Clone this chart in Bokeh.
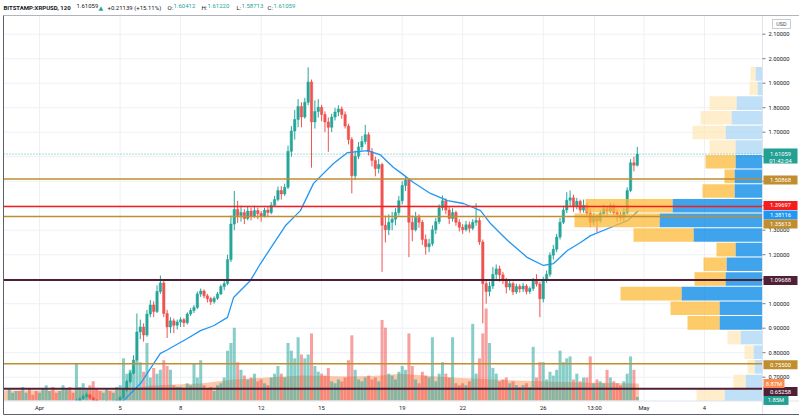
from bokeh.plotting import figure
from bokeh.models import Range1d, Label, ColumnDataSource
from bokeh.core.properties import value
from bokeh.embed import file_html
from bokeh.resources import INLINE

# ---------------- data (time in days from 1 Apr 00:00, 4h bars) ----------------
first_open = 0.562
bar_start = -1.5          # 30 Mar 12:00
bar_step = 4 / 24

closes = [
    0.566, 0.571, 0.574,                                   # Mar 30
    0.570, 0.578, 0.583, 0.575, 0.569, 0.566,              # Mar 31
    0.569, 0.573, 0.582, 0.586, 0.579, 0.576,              # Apr 1
    0.581, 0.590, 0.597, 0.594, 0.590, 0.603,              # Apr 2
    0.612, 0.622, 0.628, 0.616, 0.606, 0.598,              # Apr 3
    0.593, 0.597, 0.601, 0.596, 0.600, 0.604,              # Apr 4
    0.618, 0.648, 0.682, 0.716, 0.770, 0.885,              # Apr 5
    0.905, 0.872, 0.958, 0.995, 0.968, 1.050,              # Apr 6
    1.085, 0.960, 0.905, 0.930, 0.912, 0.925,              # Apr 7
    0.935, 0.922, 0.958, 0.972, 0.985, 1.040,              # Apr 8
    1.052, 1.032, 1.020, 1.008, 1.022, 1.040,              # Apr 9
    1.070, 1.082, 1.180, 1.325, 1.385, 1.360,              # Apr 10
    1.372, 1.348, 1.378, 1.358, 1.380, 1.368,              # Apr 11
    1.358, 1.382, 1.372, 1.402, 1.425, 1.462,              # Apr 12
    1.448, 1.475, 1.622, 1.705, 1.752, 1.805,              # Apr 13
    1.762, 1.822, 1.905, 1.742, 1.785, 1.802,              # Apr 14
    1.772, 1.742, 1.720, 1.762, 1.782, 1.795,              # Apr 15
    1.772, 1.725, 1.670, 1.522, 1.602, 1.640,              # Apr 16
    1.662, 1.690, 1.620, 1.585, 1.552, 1.568,              # Apr 17
    1.320, 1.302, 1.332, 1.345, 1.372, 1.420,              # Apr 18
    1.482, 1.505, 1.332, 1.302, 1.352, 1.332,              # Apr 19
    1.262, 1.232, 1.245, 1.302, 1.335, 1.392,              # Apr 20
    1.420, 1.382, 1.348, 1.372, 1.332, 1.312,              # Apr 21
    1.302, 1.322, 1.308, 1.332, 1.340, 1.252,              # Apr 22
    1.082, 1.050, 1.072, 1.120, 1.142, 1.118,              # Apr 23
    1.098, 1.068, 1.082, 1.048, 1.070, 1.060,              # Apr 24
    1.072, 1.050, 1.062, 1.092, 1.080, 1.020,              # Apr 25
    1.098, 1.120, 1.198, 1.222, 1.272, 1.332,              # Apr 26
    1.382, 1.422, 1.432, 1.398, 1.418, 1.382,              # Apr 27
    1.402, 1.370, 1.332, 1.352, 1.338, 1.368,              # Apr 28
    1.388, 1.378, 1.402, 1.372, 1.362, 1.352,              # Apr 29
    1.372, 1.462, 1.575, 1.565, 1.61059,                   # Apr 30
]
highs = [
    0.572, 0.576, 0.580,
    0.579, 0.585, 0.590, 0.588, 0.578, 0.574,
    0.575, 0.580, 0.590, 0.594, 0.589, 0.583,
    0.586, 0.596, 0.604, 0.601, 0.598, 0.612,
    0.618, 0.630, 0.636, 0.631, 0.620, 0.609,
    0.600, 0.602, 0.607, 0.604, 0.606, 0.610,
    0.622, 0.655, 0.690, 0.725, 0.790, 0.960,
    0.935, 0.920, 0.975, 1.015, 1.010, 1.075,
    1.115, 1.095, 0.975, 0.945, 0.940, 0.935,
    0.945, 0.942, 0.965, 0.982, 0.995, 1.050,
    1.062, 1.058, 1.040, 1.028, 1.030, 1.048,
    1.078, 1.095, 1.200, 1.360, 1.460, 1.420,
    1.400, 1.385, 1.395, 1.392, 1.400, 1.392,
    1.378, 1.392, 1.395, 1.415, 1.440, 1.478,
    1.480, 1.490, 1.645, 1.725, 1.790, 1.835,
    1.822, 1.840, 1.965, 1.915, 1.830, 1.835,
    1.812, 1.785, 1.760, 1.775, 1.800, 1.810,
    1.805, 1.785, 1.735, 1.680, 1.625, 1.660,
    1.685, 1.730, 1.700, 1.635, 1.600, 1.590,
    1.575, 1.360, 1.365, 1.375, 1.390, 1.440,
    1.500, 1.522, 1.510, 1.360, 1.375, 1.365,
    1.342, 1.282, 1.265, 1.320, 1.350, 1.405,
    1.442, 1.430, 1.395, 1.390, 1.380, 1.345,
    1.325, 1.338, 1.335, 1.345, 1.410, 1.352,
    1.262, 1.100, 1.090, 1.150, 1.160, 1.155,
    1.130, 1.105, 1.095, 1.090, 1.082, 1.080,
    1.085, 1.080, 1.070, 1.105, 1.120, 1.090,
    1.110, 1.135, 1.210, 1.240, 1.285, 1.350,
    1.400, 1.455, 1.462, 1.445, 1.432, 1.425,
    1.425, 1.412, 1.390, 1.370, 1.365, 1.380,
    1.405, 1.398, 1.412, 1.408, 1.385, 1.375,
    1.390, 1.475, 1.590, 1.600, 1.640,
]
lows = [
    0.555, 0.560, 0.565,
    0.563, 0.566, 0.574, 0.567, 0.560, 0.558,
    0.560, 0.565, 0.570, 0.577, 0.572, 0.568,
    0.573, 0.579, 0.587, 0.586, 0.582, 0.588,
    0.600, 0.609, 0.615, 0.610, 0.598, 0.590,
    0.585, 0.588, 0.592, 0.590, 0.592, 0.596,
    0.600, 0.612, 0.640, 0.675, 0.712, 0.765,
    0.855, 0.845, 0.865, 0.945, 0.945, 0.962,
    1.040, 0.945, 0.860, 0.880, 0.880, 0.895,
    0.905, 0.905, 0.915, 0.950, 0.962, 0.978,
    1.028, 1.022, 1.005, 0.995, 1.000, 1.015,
    1.035, 1.055, 1.075, 1.170, 1.300, 1.330,
    1.335, 1.325, 1.340, 1.340, 1.350, 1.345,
    1.335, 1.352, 1.355, 1.365, 1.395, 1.418,
    1.425, 1.440, 1.468, 1.600, 1.670, 1.720,
    1.720, 1.755, 1.810, 1.555, 1.715, 1.760,
    1.745, 1.700, 1.620, 1.700, 1.748, 1.765,
    1.755, 1.715, 1.650, 1.450, 1.505, 1.590,
    1.625, 1.650, 1.605, 1.560, 1.520, 1.532,
    1.130, 1.250, 1.280, 1.300, 1.320, 1.360,
    1.405, 1.460, 1.190, 1.255, 1.295, 1.310,
    1.240, 1.200, 1.210, 1.235, 1.285, 1.325,
    1.380, 1.365, 1.325, 1.335, 1.318, 1.295,
    1.285, 1.295, 1.290, 1.300, 1.318, 1.240,
    0.920, 1.000, 1.030, 1.060, 1.100, 1.090,
    1.080, 1.042, 1.055, 1.035, 1.040, 1.045,
    1.048, 1.038, 1.040, 1.052, 1.070, 0.945,
    1.005, 1.085, 1.110, 1.180, 1.210, 1.262,
    1.325, 1.370, 1.395, 1.375, 1.385, 1.370,
    1.372, 1.355, 1.312, 1.320, 1.292, 1.330,
    1.360, 1.360, 1.370, 1.360, 1.335, 1.338,
    1.335, 1.365, 1.455, 1.540, 1.560,
]
volumes_m = [
    6, 4, 5,
    5, 7, 4, 6, 3, 5,
    4, 6, 8, 5, 7, 4,
    5, 8, 6, 7, 4, 19,
    7, 9, 6, 8, 10, 6,
    5, 4, 6, 5, 4, 7,
    8, 22, 14, 16, 18, 21,
    20, 15, 30, 12, 17, 14,
    16, 21, 18, 16, 8, 7,
    7, 6, 9, 8, 19, 12,
    21, 8, 6, 7, 5, 8,
    9, 12, 26, 30, 38, 20,
    16, 13, 11, 12, 14, 10,
    11, 9, 8, 12, 14, 18,
    14, 12, 30, 26, 22, 33,
    24, 22, 24, 35, 18, 15,
    14, 13, 17, 10, 9, 11,
    10, 12, 21, 34, 16, 11,
    10, 12, 13, 11, 12, 10,
    42, 38, 14, 13, 11, 15,
    18, 16, 35, 18, 11, 9,
    15, 13, 12, 33, 10, 14,
    20, 14, 12, 33, 9, 8,
    9, 8, 10, 40, 14, 22,
    35, 48, 30, 17, 14, 10,
    11, 12, 9, 10, 8, 7,
    8, 9, 7, 28, 12, 20,
    20, 11, 15, 13, 16, 26,
    20, 22, 23, 11, 14, 10,
    12, 12, 23, 9, 11, 10,
    9, 16, 12, 10, 9, 8,
    10, 14, 23, 16, 1.85,
]

# moving average of price
ma_t = [4.0, 5.01, 6.0, 6.35, 7.34, 7.99, 8.64, 9.33, 9.63, 10.47, 10.97, 12.2, 12.95,
        13.6, 14.59, 15.29, 16.28, 16.92, 17.57, 17.92, 18.56, 19.40, 20.25, 21.04,
        21.89, 22.38, 23.23, 24.22, 25.01, 25.51, 26.20, 26.85, 27.35, 28.34, 29.18, 29.73]
ma_v = [0.590, 0.674, 0.797, 0.812, 0.858, 0.890, 0.910, 0.944, 1.025, 1.095, 1.164, 1.318,
        1.380, 1.491, 1.572, 1.617, 1.625, 1.607, 1.556, 1.535, 1.495, 1.450, 1.421, 1.409,
        1.380, 1.327, 1.258, 1.188, 1.156, 1.164, 1.217, 1.250, 1.278, 1.311, 1.339, 1.380]

# volume moving average (millions)
vol_ma_t = [-1.79, 4.0, 5.0, 5.5, 8.0, 9.6, 10.5, 13.0, 15.4, 17.0, 17.9, 20.4, 23.7, 27.0, 29.75]
vol_ma_m = [5.2, 5.3, 6.8, 7.8, 8.9, 11.0, 11.5, 13.0, 12.5, 13.0, 14.0, 12.0, 10.4, 9.4, 8.87]

# visible-range volume profile (rows from top), volumes in M
vp_price = [1.9382, 1.8784, 1.8186, 1.7588, 1.6990, 1.6392, 1.5794, 1.5196, 1.4598,
            1.4000, 1.3402, 1.2804, 1.2206, 1.1608, 1.1010, 1.0412, 0.9814, 0.9216,
            0.8618, 0.8020, 0.7422, 0.6824, 0.6226]
vp_total = [24, 26, 106, 124, 140, 106, 114, 76, 120, 354, 376, 258, 92, 118, 136,
            284, 184, 150, 70, 36, 30, 58, 132]
vp_up = [14, 10, 52, 62, 74, 54, 54, 56, 56, 180, 206, 138, 54, 72, 74, 162, 86, 86,
         44, 18, 16, 34, 76]
vp_in_value_area = [False] * 6 + [True] * 12 + [False] * 5

level_prices = [1.50868, 1.39697, 1.35613, 1.09688, 0.75500, 0.65258]
level_colors = ["#c08d2f", "#f41e1e", "#c08d2f", "#4f1f36", "#c08d2f", "#4f1f36"]
level_widths = [1.5, 1.5, 1.5, 2, 1.5, 2]
last_price = 1.61059

price_ticks = [0.7, 0.8, 0.9, 1.0, 1.1, 1.2, 1.3, 1.4, 1.5, 1.6, 1.7, 1.8, 1.9, 2.0, 2.1]
price_tick_labels = ["0.70000", "0.80000", "0.90000", "1.00000", "1.10000", "1.20000",
                     "1.30000", "1.40000", "1.50000", "1.60000", "1.70000", "1.80000",
                     "1.90000", "2.00000", "2.10000"]
time_ticks = [0, 4, 7, 11, 14, 18, 21, 25, 27 + 13 / 24, 30, 33]
time_labels = ["Apr", "5", "8", "12", "15", "19", "22", "26", "13:00", "May", "4"]

# price-scale tags: text, value, colour, shift px (down +)
tag_text = ["1.50868", "1.39697", "1.38116", "1.35613", "1.09688", "0.75500", "0.65258"]
tag_value = [1.50868, 1.39697, 1.38116, 1.35613, 1.09688, 0.75500, 0.65258]
tag_color = ["#c08d2f", "#f41e1e", "#2196f3", "#c08d2f", "#4f1f36", "#c08d2f", "#4f1f36"]
tag_shift = [1, -1, 4.8, 7.5, 0.5, 1, 2.7]
vol_tag_text = ["8.87M", "1.85M"]
vol_tag_value = [vol_ma_m[-1], volumes_m[-1]]
vol_tag_color = ["#fb8c4e", "#22a092"]
vol_tag_width = [21, 25]
vol_tag_shift = [0, 3.5]

# ---------------- pixel geometry (reference picture) ----------------
W, H = 799, 416
PX_DAY, X_APR1 = 20.15, 39.0          # px per day, page x of 1 Apr
PX_PRICE, Y_21 = 245.0, 33.7          # px per 1.0 price, page y of 2.10
VOL_PER_PX = 8.87 / 17
PANE_L, PANE_T, AXIS_X, AXIS_Y, BOT_Y = 3, 15, 762, 400.5, 414


def tx(px):
    return (px - X_APR1) / PX_DAY


def py(y):
    return 2.1 - (y - Y_21) / PX_PRICE


UP, DOWN = "#26a69a", "#ef5350"
DARK = "#131722"
FONT = "Roboto"
GRID = "#eef0f4"

p = figure(width=W, height=H, output_backend="svg", toolbar_location=None,
           x_range=Range1d(tx(0), tx(W)), y_range=Range1d(py(H), py(0)),
           x_axis_location=None, y_axis_location=None,
           min_border=0, min_border_left=0, min_border_right=0,
           min_border_top=0, min_border_bottom=0)
p.outline_line_color = None
p.grid.visible = False
p.extra_y_ranges = {"vol": Range1d(-(H - 400) * VOL_PER_PX, 400 * VOL_PER_PX)}
p.extra_x_ranges = {"vp": Range1d(AXIS_X * 2, -(W - AXIS_X) * 2)}

# grid
n = len(time_ticks)
p.segment(x0=time_ticks, y0=[py(AXIS_Y)] * n, x1=time_ticks, y1=[py(PANE_T)] * n,
          line_color=GRID, line_width=1)
m = len(price_ticks)
p.segment(x0=[tx(PANE_L)] * m, y0=price_ticks, x1=[tx(AXIS_X)] * m, y1=price_ticks,
          line_color=GRID, line_width=1)

# candles + volume
opens = [first_open] + closes[:-1]
times = [bar_start + i * bar_step for i in range(len(closes))]
colors = [UP if c >= o else DOWN for o, c in zip(opens, closes)]
src = ColumnDataSource(dict(
    t=times, o=opens, c=closes, h=highs, l=lows, v=volumes_m, color=colors,
    top=[max(o, c) for o, c in zip(opens, closes)],
    bot=[min(o, c) for o, c in zip(opens, closes)],
))

p.varea(x=vol_ma_t, y1=[0] * len(vol_ma_t), y2=vol_ma_m, fill_color="#fb9a64",
        fill_alpha=0.55, y_range_name="vol")
p.vbar(x="t", top="v", bottom=0, width=0.15, fill_color="color", fill_alpha=0.55,
       line_color=None, source=src, y_range_name="vol")

p.segment(x0="t", y0="l", x1="t", y1="h", line_color="color", line_width=1, source=src)
p.vbar(x="t", top="top", bottom="bot", width=0.12, fill_color="color",
       line_color="color", line_width=0.5, source=src)

p.line(ma_t, ma_v, line_color="#2196f3", line_width=1.3)

# volume profile
vp_up_col = ["#0086e6" if va else "#aad6f4" for va in vp_in_value_area]
vp_dn_col = ["#feba38" if va else "#ffe8ba" for va in vp_in_value_area]
p.hbar(y=vp_price, left=0, right=vp_up, height=0.0555, fill_color=vp_up_col,
       fill_alpha=0.75, line_color=None, x_range_name="vp")
p.hbar(y=vp_price, left=vp_up, right=vp_total, height=0.0555, fill_color=vp_dn_col,
       fill_alpha=0.75, line_color=None, x_range_name="vp")

# horizontal levels
k = len(level_prices)
p.segment(x0=[tx(PANE_L)] * k, y0=level_prices, x1=[tx(AXIS_X)] * k, y1=level_prices,
          line_color=level_colors, line_width=level_widths)
p.segment(x0=[tx(PANE_L)], y0=[last_price], x1=[tx(AXIS_X)], y1=[last_price],
          line_color=UP, line_dash="1 2", line_width=1, line_alpha=0.8)

# white strip under time axis (hides prices below the pane)
p.quad(left=[tx(0)], right=[tx(W)], bottom=[py(H)], top=[py(AXIS_Y)],
       fill_color="white", line_color=None)

# frame lines
p.segment(x0=[tx(AXIS_X), tx(PANE_L), tx(PANE_L), tx(PANE_L), tx(PANE_L)],
          y0=[py(PANE_T), py(AXIS_Y), py(PANE_T), py(BOT_Y), py(PANE_T)],
          x1=[tx(AXIS_X), tx(W), tx(W), tx(W), tx(PANE_L)],
          y1=[py(BOT_Y), py(AXIS_Y), py(PANE_T), py(BOT_Y), py(BOT_Y)],
          line_color=["#e0e3eb", "#e0e3eb", "#b2b5be", "#5d606b", "#5d606b"], line_width=1)

# price scale ticks + labels
p.segment(x0=[tx(AXIS_X)] * m, y0=price_ticks, x1=[tx(AXIS_X + 3)] * m, y1=price_ticks,
          line_color="#787b86", line_width=1)
p.text(x=[tx(AXIS_X + 6)] * m, y=price_ticks, text=price_tick_labels, text_color=DARK,
       text_font=value(FONT), text_font_size=value("5.8px"), text_align="left",
       text_baseline="middle")

# time scale labels
p.text(x=time_ticks, y=[py(407)] * n, text=time_labels, text_color=DARK,
       text_font=value(FONT), text_font_size=value("5.8px"), text_align="center",
       text_baseline="middle")

# price tags
ty = [v - s / PX_PRICE for v, s in zip(tag_value, tag_shift)]
p.rect(x=[tx(AXIS_X + 1 + 17)] * len(ty), y=ty, width=34, height=9, width_units="screen",
       height_units="screen", fill_color=tag_color, line_color=None)
p.text(x=[tx(AXIS_X + 18)] * len(ty), y=ty, text=tag_text, text_color="white",
       text_font=value(FONT), text_font_size=value("5.8px"), text_align="center",
       text_baseline="middle")

# last price tag (two lines)
p.rect(x=[tx(AXIS_X + 18)], y=[py(155.5)], width=34, height=15, width_units="screen",
       height_units="screen", fill_color="#22a092", line_color=None)
p.text(x=[tx(AXIS_X + 18)] * 2, y=[last_price, py(160.5)], text=["1.61059", "01:42:04"],
       text_color="white", text_font=value(FONT), text_font_size=value("5.8px"),
       text_align="center", text_baseline="middle")

# volume tags
vy = [v - s * VOL_PER_PX for v, s in zip(vol_tag_value, vol_tag_shift)]
p.rect(x=[tx(AXIS_X + 1 + w / 2) for w in vol_tag_width], y=vy, width=vol_tag_width,
       height=9, width_units="screen", height_units="screen", fill_color=vol_tag_color,
       line_color=None, y_range_name="vol")
p.text(x=[tx(AXIS_X + 1 + w / 2) for w in vol_tag_width], y=vy, text=vol_tag_text,
       text_color="white", text_font=value(FONT), text_font_size=value("5.8px"),
       text_align="center", text_baseline="middle", y_range_name="vol")

# USD badge
p.rect(x=[tx(781)], y=[py(23.5)], width=18, height=9, width_units="screen",
       height_units="screen", fill_color="white", line_color="#c8cad0", line_width=1)
p.text(x=[tx(781)], y=[py(23.5)], text=["USD"], text_color="#50535e",
       text_font=value(FONT), text_font_size=value("5.5px"), text_align="center",
       text_baseline="middle")

# header
header = [
    ("BITSTAMP:XRPUSD, 120", 3, DARK, "bold", FONT),
    ("1.61059", 76, DARK, "normal", FONT),
    ("▲", 98, UP, "normal", "DejaVu Sans"),
    ("+0.21139 (+15.11%)", 107, DARK, "normal", FONT),
    ("O:", 167, DARK, "normal", FONT), ("1.60412", 173, UP, "normal", FONT),
    ("H:", 201, DARK, "normal", FONT), ("1.61220", 207, UP, "normal", FONT),
    ("L:", 236, DARK, "normal", FONT), ("1.58713", 241, UP, "normal", FONT),
    ("C:", 267, DARK, "normal", FONT), ("1.61059", 273, UP, "normal", FONT),
]
for txt, px, col, style, fnt in header:
    p.add_layout(Label(x=px, y=py(0), x_units="screen", text=txt, text_color=col,
                       text_font=fnt, text_font_size="6px", text_font_style=style,
                       text_baseline="top", y_offset=-3))

open("out.html", "w").write(file_html(p, INLINE))
